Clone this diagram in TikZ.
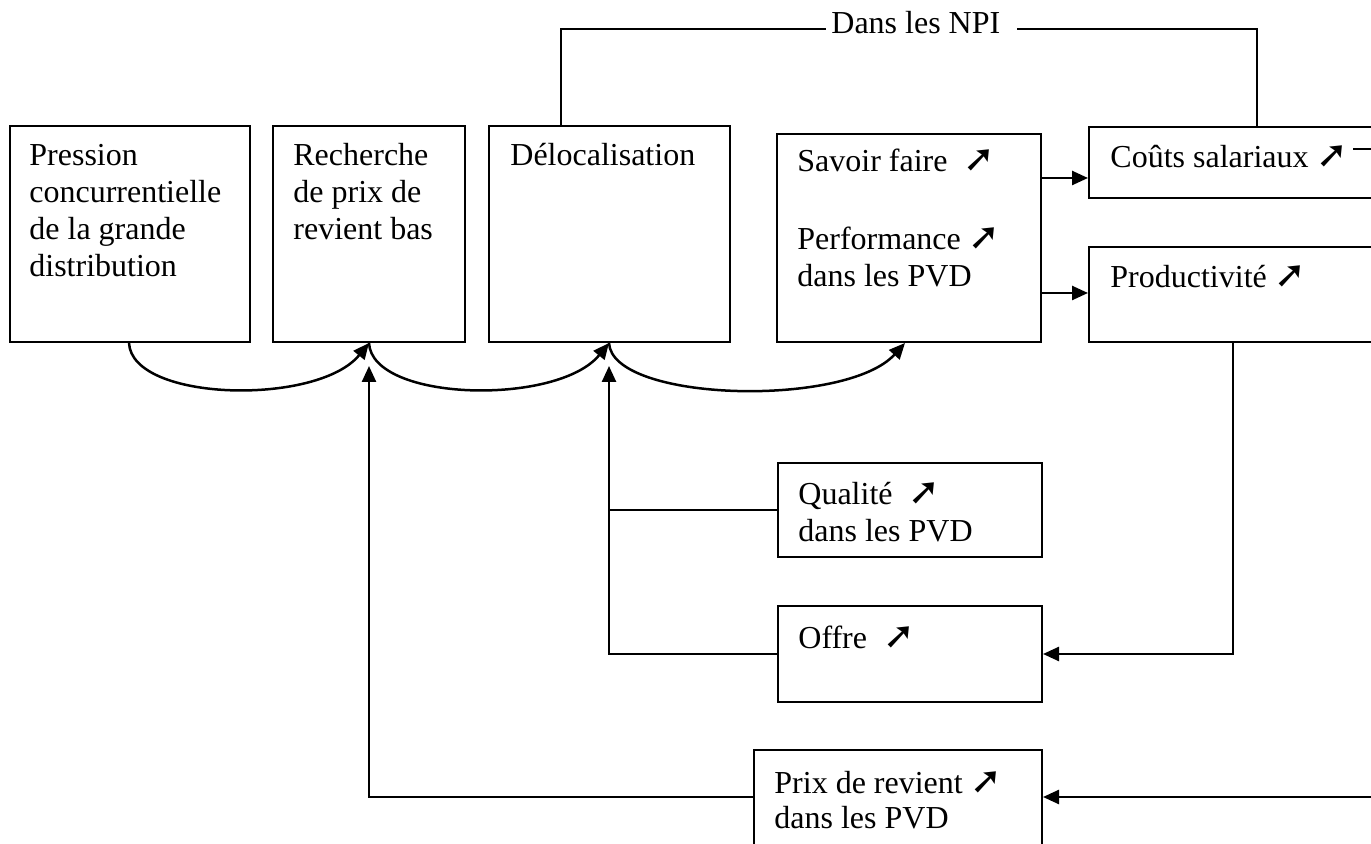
\documentclass[tikz,border=0pt]{standalone}
\usepackage{fontspec}
\setmainfont{Liberation Serif}
\newfontfamily\dvfont{DejaVu Sans}
\usetikzlibrary{arrows.meta}
\newcommand{\hausse}{{\dvfont\fontsize{19}{19}\selectfont ➚}}
\begin{document}
\begin{tikzpicture}[x=0.5pt,y=-0.5pt,
  box/.style={draw, line width=1pt, rectangle, inner sep=0pt, anchor=north west},
  txt/.style={anchor=base west, align=left, inner sep=0pt, font=\fontsize{16}{18.5}\selectfont},
  arr/.style={line width=1.25pt, -{Triangle[length=8pt,width=7pt]}},
  ln/.style={line width=1pt}]
\useasboundingbox (0,0) rectangle (1371,844);
\clip (0,0) rectangle (1371,844);
% boxes
\node[box, minimum width=120pt, minimum height=108pt] (B1) at (9,125) {};
\node[box, minimum width=96pt, minimum height=108pt] (B2) at (272,125) {};
\node[box, minimum width=120.5pt, minimum height=108pt] (B3) at (488,125) {};
\node[box, minimum width=132pt, minimum height=104pt] (B4) at (776,133) {};
\node[box, minimum width=160pt, minimum height=35.5pt] (B5) at (1088,126) {};
\node[box, minimum width=160pt, minimum height=47.5pt] (B6) at (1088,246) {};
\node[box, minimum width=132pt, minimum height=47pt] (Qual) at (777,462) {};
\node[box, minimum width=132pt, minimum height=48pt] (Offre) at (777,605) {};
\node[box, minimum width=144pt, minimum height=60pt] (Prix) at (753,749) {};
% texts (anchored at the baseline of the last line)
\node[txt] (t1) at (29,277) {Pression\\concurrentielle\\de la grande\\distribution};
\node[txt] (t2) at (293,240) {Recherche\\de prix de\\revient bas};
\node[txt] (t3) at (510,166) {Délocalisation};
\node[txt] (t4) at (797,172) {Savoir faire~~\hausse};
\node[txt] (t4b) at (797,287) {Performance \hausse\\dans les PVD};
\node[txt] (t5) at (1110,168) {Coûts salariaux \hausse};
\node[txt] (t6) at (1110,288) {Productivité \hausse};
\node[txt] (tq) at (798,541) {Qualité~~\hausse\\dans les PVD};
\node[txt] (to) at (798,648) {Offre~~\hausse};
\node[txt, font=\fontsize{16}{17.5}\selectfont] (tp) at (774,828) {Prix de revient \hausse\\dans les PVD};
\node[txt] (npi) at (831,34) {Dans les NPI};
% coordinates
\coordinate (n3) at (561,29);
\coordinate (nl) at (826,29);
\coordinate (nr) at (1017,29);
\coordinate (d1) at (1353,149);
\coordinate (d2) at (1371,149);
\coordinate (a2) at (369,366);
\coordinate (a3) at (609,366);
\coordinate (rin) at (1371,797);
% NPI connector
\draw[ln] (B3.north -| n3) -- (n3) -- (nl);
\draw[ln] (nr) -| (B5.north -| 1257,0);
\draw[ln] (d1) -- (d2);
% arrows from B4
\draw[arr] (B4.east |- 0,178) -- (B5.west |- 0,178);
\draw[arr] (B4.east |- 0,293) -- (B6.west |- 0,293);
% curves
\draw[arr] (B1.south -| 129,0) .. controls (132,402) and (318,406) .. (B2.south -| 369,0);
\draw[arr] (B2.south -| 369,0) .. controls (372,402) and (558,406) .. (B3.south -| 609,0);
\draw[arr] (B3.south -| 609,0) .. controls (612,402) and (846,408) .. (B4.south -| 905,0);
% productivity to offer
\draw[arr] (B6.south -| 1233,0) |- (Offre.east);
% offer and quality to delocalisation
\draw[arr] (Offre.west) -| (a3);
\draw[ln] (Qual.west) -- (Qual.west -| a3);
% prix de revient
\draw[arr] (Prix.west |- rin) -| (a2);
\draw[arr] (rin) -- (Prix.east |- rin);
\end{tikzpicture}
\end{document}
